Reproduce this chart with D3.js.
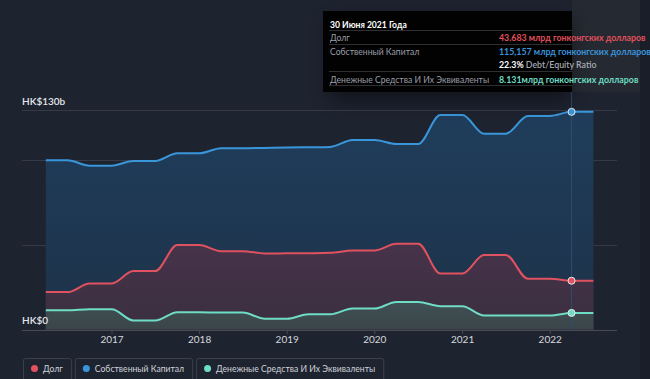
<!DOCTYPE html>
<html><head><meta charset="utf-8">
<script src="https://cdn.jsdelivr.net/npm/d3@7/dist/d3.min.js"></script>
<style>
html,body{margin:0;padding:0;background:#1e2330;overflow:hidden;}
svg{display:block;font-family:Lato,"Noto Sans",sans-serif;}
</style></head>
<body><svg id="c" width="650" height="379"></svg>
<script>
const dates = ["2016-03-31","2016-06-30","2016-09-30","2016-12-31","2017-03-31","2017-06-30","2017-09-30","2017-12-31",
  "2018-03-31","2018-06-30","2018-09-30","2018-12-31","2019-03-31","2019-06-30","2019-09-30","2019-12-31",
  "2020-03-31","2020-06-30","2020-09-30","2020-12-31","2021-03-31","2021-06-30","2021-09-30","2021-12-31",
  "2022-03-31","2022-06-30"];
const equity = [100.0,100.0,96.8,96.8,99.6,99.6,104.1,104.1,107.1,107.1,107.3,107.5,107.7,107.9,112.0,112.0,109.6,109.6,126.8,126.8,115.7,115.7,126.2,126.2,128.6,128.6];
const debt = [22.1,22.1,27.2,27.2,34.5,34.5,49.9,49.9,46.3,46.3,44.9,45.0,45.1,45.3,46.7,46.7,50.7,50.7,33.1,33.1,44.0,44.0,30.0,30.0,28.8,28.8];
const cash = [11.4,11.4,12.0,12.0,5.3,5.3,10.2,10.2,10.0,10.0,6.3,6.3,9.0,9.0,12.4,12.4,16.3,16.3,13.8,13.8,8.3,8.3,8.3,8.3,9.8,9.8];
const yTicks = [0,50,100,130];
const yLabels = ["HK$0","HK$130b"];
const yearTicks = ["2017","2018","2019","2020","2021","2022"];
const cursorDate = "2022-03-31";
const seriesNames = ["Долг","Собственный Капитал","Денежные Средства И Их Эквиваленты"];
const tipTitle = "30 Июня 2021 Года";
const tipRows = [
  {label:"Долг", value:"43.683 млрд гонконгских долларов", color:"#e0505c"},
  {label:"Собственный Капитал", value:"115,157 млрд гонконгских долларов", color:"#3a93d8"},
  {label:"", value:"22.3%", extra:" Debt/Equity Ratio", color:"#ffffff"},
  {label:"Денежные Средства И Их Эквиваленты", value:"8.131млрд гонконгских долларов", color:"#6fdcc4"}
];

const parse = d3.timeParse("%Y-%m-%d");
const D = dates.map(parse);
const svg = d3.select("#c");

function fit(t, sq){
  const w = t.node().getComputedTextLength();
  t.attr("textLength", w*sq).attr("lengthAdjust","spacingAndGlyphs");
  return w*sq;
}

svg.append("rect").attr("x",0).attr("y",0).attr("width",650).attr("height",379).attr("fill","#1e2330");
svg.append("rect").attr("x",640).attr("y",0).attr("width",10).attr("height",379).attr("fill","#1a1e28");
svg.append("rect").attr("x",572).attr("y",0).attr("width",68).attr("height",92).attr("fill","#252931");

const x = d3.scaleTime().domain([parse("2016-03-31"), parse("2022-06-30")]).range([45.8, 593.4]);
const y = d3.scaleLinear().domain([0,130]).range([329.5,109.5]);

svg.append("g").selectAll("line").data(yTicks).join("line")
  .attr("x1",22).attr("x2",617).attr("y1",d=>Math.round(y(d))+0.5).attr("y2",d=>Math.round(y(d))+0.5)
  .attr("stroke",d=>d===0?"#474c58":"#353a46").attr("stroke-width",1);

const defs = svg.append("defs");
function grad(id, c1, c2){
  const g = defs.append("linearGradient").attr("id",id).attr("x1",0).attr("y1",0).attr("x2",0).attr("y2",1);
  g.append("stop").attr("offset","0%").attr("stop-color",c1);
  g.append("stop").attr("offset","100%").attr("stop-color",c2);
}
grad("gb","#1f3d5b","#1e3249");
grad("gr","#47334a","#3a2f40");
grad("gt","#3f5055","#3b4549");
const f = defs.append("filter").attr("id","sh").attr("x","-30%").attr("y","-30%").attr("width","160%").attr("height","180%");
f.append("feGaussianBlur").attr("stdDeviation",10);

const series = [
  {vals:equity, color:"#3a96da", fill:"url(#gb)"},
  {vals:debt, color:"#e0525f", fill:"url(#gr)"},
  {vals:cash, color:"#6fdcc4", fill:"url(#gt)"}
];
const area = vals => d3.area().x((d,i)=>x(D[i])).y0(y(0)).y1(d=>y(d)).curve(d3.curveMonotoneX)(vals);
const line = vals => d3.line().x((d,i)=>x(D[i])).y(d=>y(d)).curve(d3.curveMonotoneX)(vals);
series.forEach(s=>{ svg.append("path").attr("d",area(s.vals)).attr("fill",s.fill); });
series.forEach(s=>{
  svg.append("path").attr("d",line(s.vals)).attr("fill","none").attr("stroke",s.color).attr("stroke-width",2);
});

const yrs = yearTicks.map(t=>parse(t+"-01-01"));
svg.append("g").selectAll("line").data(yrs).join("line")
  .attr("x1",d=>x(d)).attr("x2",d=>x(d)).attr("y1",330).attr("y2",334).attr("stroke","#474c58");
svg.append("g").selectAll("text").data(yrs).join("text")
  .attr("x",d=>x(d)).attr("y",342.5).attr("text-anchor","middle").attr("fill","#d6d8dc")
  .attr("font-size","10px").text((d,i)=>yearTicks[i]);

svg.append("text").attr("x",22).attr("y",y(130)-5).attr("fill","#e4e6ea").attr("font-size","10px").attr("font-weight","600").text(yLabels[1]);
svg.append("text").attr("x",22).attr("y",y(0)-5.5).attr("fill","#e4e6ea").attr("font-size","10px").attr("font-weight","600").text(yLabels[0]);

const cd = parse(cursorDate);
const ci = dates.indexOf(cursorDate);
svg.append("line").attr("x1",x(cd)).attr("x2",x(cd)).attr("y1",92).attr("y2",329.5)
  .attr("stroke","#2f4c6b").attr("stroke-width",1);
[{v:equity,c:"#3a96da"},{v:debt,c:"#e0525f"},{v:cash,c:"#6fdcc4"}].forEach(s=>{
  svg.append("circle").attr("cx",x(cd)).attr("cy",y(s.v[ci])).attr("r",3.5)
    .attr("fill",s.c).attr("stroke","#e8eef4").attr("stroke-width",1);
});

// tooltip
svg.append("rect").attr("x",330).attr("y",20).attr("width",240).attr("height",80).attr("fill","#000").attr("opacity",0.45).attr("filter","url(#sh)");
svg.append("rect").attr("x",323).attr("y",11).attr("width",249).attr("height",81).attr("fill","#020203");
fit(svg.append("text").attr("x",330).attr("y",27.5).attr("fill","#ffffff").attr("font-size","10px").attr("font-weight","700").text(tipTitle), 0.86);
[30.5,44.5,71.5,85.5].forEach(yy=>{
  svg.append("line").attr("x1",329).attr("x2",572).attr("y1",yy).attr("y2",yy).attr("stroke","#2e2f33");
});
const rowY = [41,55,68,82.5];
tipRows.forEach((r,i)=>{
  if(r.label) fit(svg.append("text").attr("x",330).attr("y",rowY[i]).attr("fill","#9a9ea6").attr("font-size","10px").text(r.label), 0.86);
  const t = svg.append("text").attr("x",499).attr("y",rowY[i]).attr("font-size","10px");
  t.append("tspan").attr("fill",r.color).attr("font-weight","700").text(r.value);
  if(r.extra) t.append("tspan").attr("fill","#a4a8b0").attr("font-weight","600").text(r.extra);
  fit(t, 0.88);
});

// legend
const legColors = ["#e0525f","#3a96da","#6fdcc4"];
let lx = 23;
const lg = svg.append("g");
seriesNames.forEach((n,i)=>{
  const g = lg.append("g");
  const t = g.append("text").attr("x",lx+20).attr("y",372).attr("fill","#d0d3d8").attr("font-size","10px").text(n);
  const w = fit(t, 0.86);
  g.insert("rect","text").attr("x",lx+0.5).attr("y",358.5).attr("width",w+28).attr("height",24).attr("rx",2)
    .attr("fill","none").attr("stroke","#3a3f4b");
  g.append("circle").attr("cx",lx+11.5).attr("cy",368.5).attr("r",3.5).attr("fill",legColors[i]);
  lx += w + 28 + 4;
});
</script></body></html>
